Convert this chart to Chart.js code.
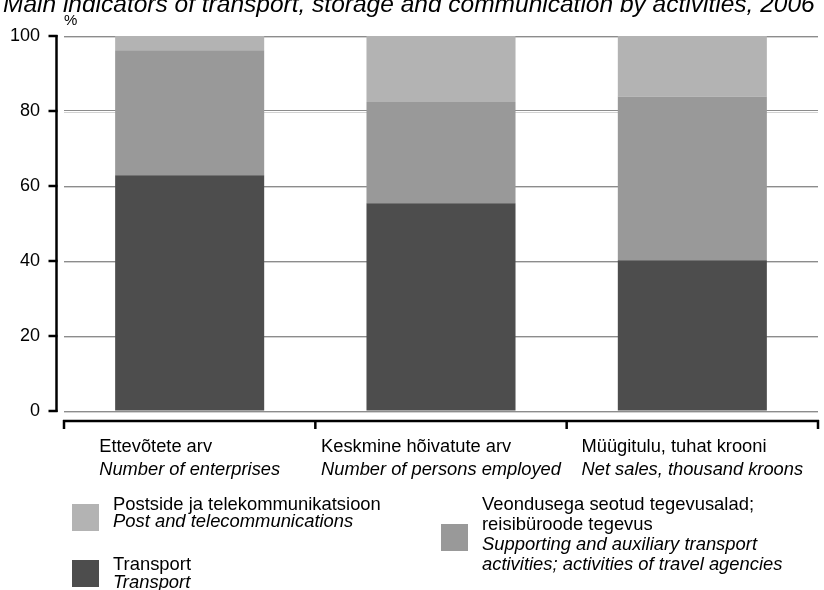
<!DOCTYPE html>
<html>
<head>
<meta charset="utf-8">
<script src="https://cdn.jsdelivr.net/npm/chart.js@4/dist/chart.umd.min.js"></script>
<style>
html,body{margin:0;padding:0;background:#fff;}
#wrap{position:relative;width:824px;height:590px;overflow:hidden;font-family:"Liberation Sans",Arial,sans-serif;color:#000;}
#c{position:absolute;left:0;top:0;}
.t{position:absolute;white-space:nowrap;}
#title{left:3px;top:-7.7px;font-size:24.5px;line-height:24.5px;font-style:italic;}
#pct{left:64px;top:12.3px;font-size:15px;line-height:15px;}
.cat{position:absolute;top:435.4px;font-size:18.3px;line-height:22.6px;white-space:nowrap;transform:translateX(-50%);}
.cat .en,.leg .en{font-style:italic;}
.cat div,.leg div{display:block;}
.leg{position:absolute;font-size:18.4px;white-space:nowrap;}
.sw{position:absolute;width:27px;height:27px;}
</style>
</head>
<body>
<div id="wrap">
  <canvas id="c" width="824" height="590"></canvas>
  <div id="title" class="t">Main indicators of transport, storage and communication by activities, 2006</div>
  <div id="pct" class="t">%</div>
</div>
<script>
// ---- data ----
const categoriesEt = ["Ettevõtete arv", "Keskmine hõivatute arv", "Müügitulu, tuhat krooni"];
const categoriesEn = ["Number of enterprises", "Number of persons employed", "Net sales, thousand kroons"];
const transport  = [62.9, 55.4, 40.2];
const supporting = [33.3, 27.0, 43.7];
const post       = [3.8, 17.6, 16.1];
const yTicks = [0, 20, 40, 60, 80, 100];

const seriesNamesEt = ["Transport", "Veondusega seotud tegevusalad;\nreisibüroode tegevus", "Postside ja telekommunikatsioon"];
const seriesNamesEn = ["Transport", "Supporting and auxiliary transport\nactivities; activities of travel agencies", "Post and telecommunications"];
const colors = ["#4d4d4d", "#999999", "#b3b3b3"];

const axesPlugin = {
  id: 'axesPlugin',
  beforeDatasetsDraw(chart) {
    const {ctx, chartArea: a, scales: {y}} = chart;
    ctx.save();
    ctx.strokeStyle = '#d2d2d2';
    ctx.lineWidth = 1;
    y.ticks.forEach(t => {
      const py = Math.round(y.getPixelForValue(t.value)) + 1.5;
      ctx.beginPath(); ctx.moveTo(a.left, py); ctx.lineTo(a.right, py); ctx.stroke();
    });
    ctx.restore();
  },
  afterDraw(chart) {
    const {ctx, chartArea: a, scales: {x, y}} = chart;
    ctx.save();
    ctx.strokeStyle = '#000';
    ctx.lineWidth = 2.5;
    const ax = a.left - 7.5;
    const top = y.getPixelForValue(y.max), bot = y.getPixelForValue(y.min);
    ctx.beginPath(); ctx.moveTo(ax, top - 1); ctx.lineTo(ax, bot + 1); ctx.stroke();
    y.ticks.forEach(t => {
      const py = y.getPixelForValue(t.value);
      ctx.beginPath(); ctx.moveTo(ax - 8, py); ctx.lineTo(ax + 1, py); ctx.stroke();
    });
    const n = categoriesEt.length;
    const by = a.bottom + 10;
    ctx.beginPath(); ctx.moveTo(x.getPixelForValue(-0.5) - 1, by); ctx.lineTo(x.getPixelForValue(n - 0.5) + 1, by); ctx.stroke();
    for (let i = 0; i <= n; i++) {
      const px = x.getPixelForValue(i - 0.5);
      ctx.beginPath(); ctx.moveTo(px, by - 1); ctx.lineTo(px, by + 8); ctx.stroke();
    }
    ctx.restore();
  }
};

const chart = new Chart(document.getElementById('c'), {
  type: 'bar',
  data: {
    labels: categoriesEt,
    datasets: [
      {label: seriesNamesEt[0], data: transport, backgroundColor: colors[0]},
      {label: seriesNamesEt[1], data: supporting, backgroundColor: colors[1]},
      {label: seriesNamesEt[2], data: post, backgroundColor: colors[2]}
    ]
  },
  options: {
    responsive: false,
    animation: false,
    devicePixelRatio: 1,
    layout: {padding: {top: 36, right: 6, left: 0, bottom: 0}},
    datasets: {bar: {categoryPercentage: 1, barPercentage: 0.593, borderWidth: 0}},
    plugins: {legend: {display: false}, tooltip: {enabled: false}, title: {display: false}},
    scales: {
      x: {
        stacked: true,
        grid: {display: false},
        border: {display: false},
        ticks: {display: false},
        afterFit: s => { s.height = 179; }
      },
      y: {
        stacked: true,
        min: 0, max: 100,
        afterBuildTicks: s => { s.ticks = yTicks.map(v => ({value: v})); },
        grid: {color: '#8c8c8c', lineWidth: 1, drawTicks: false},
        border: {display: false},
        ticks: {color: '#000', padding: 24, font: {family: '"Liberation Sans", Arial, sans-serif', size: 18}},
        afterFit: s => { s.width = 64; }
      }
    }
  },
  plugins: [axesPlugin]
});

// category labels (two languages), centred on each category
const wrap = document.getElementById('wrap');
categoriesEt.forEach((c, i) => {
  const d = document.createElement('div');
  d.className = 'cat';
  d.style.left = chart.scales.x.getPixelForValue(i) + 'px';
  const a = document.createElement('div'); a.textContent = c;
  const b = document.createElement('div'); b.className = 'en'; b.textContent = categoriesEn[i];
  d.appendChild(a); d.appendChild(b);
  wrap.appendChild(d);
});

// legend
const legendLayout = [
  {series: 2, sw: [72, 504], text: [113, 496.4], lh: 16.5},
  {series: 0, sw: [72, 560], text: [113, 554.7], lh: 18.5},
  {series: 1, sw: [441, 524], text: [482, 493.6], lh: 20}
];
legendLayout.forEach(L => {
  const s = document.createElement('div');
  s.className = 'sw';
  s.style.left = L.sw[0] + 'px'; s.style.top = L.sw[1] + 'px';
  s.style.background = colors[L.series];
  wrap.appendChild(s);
  const t = document.createElement('div');
  t.className = 'leg';
  t.style.left = L.text[0] + 'px'; t.style.top = L.text[1] + 'px';
  t.style.lineHeight = L.lh + 'px';
  seriesNamesEt[L.series].split('\n').forEach(line => {
    const e = document.createElement('div'); e.textContent = line; t.appendChild(e);
  });
  seriesNamesEn[L.series].split('\n').forEach(line => {
    const e = document.createElement('div'); e.className = 'en'; e.textContent = line; t.appendChild(e);
  });
  wrap.appendChild(t);
});
</script>
</body>
</html>
